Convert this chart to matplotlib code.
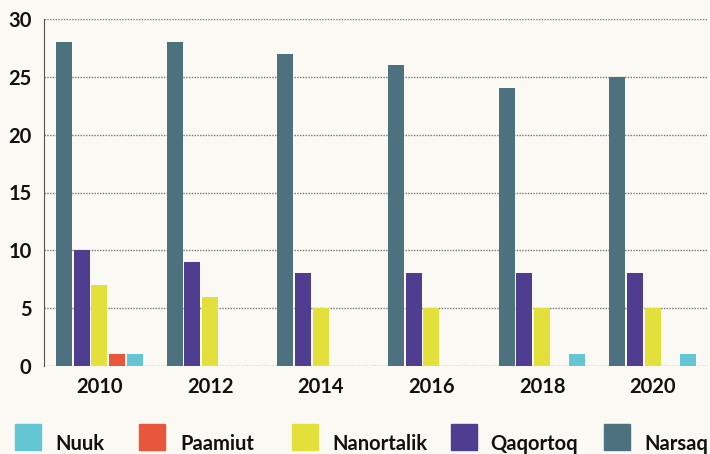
import numpy as np
import matplotlib
matplotlib.use("Agg")
import matplotlib.pyplot as plt
from matplotlib.patches import Rectangle

years = ["2010", "2012", "2014", "2016", "2018", "2020"]
series = ["Narsaq", "Qaqortoq", "Nanortalik", "Paamiut", "Nuuk"]
narsaq = [28, 28, 27, 26, 24, 25]
qaqortoq = [10, 9, 8, 8, 8, 8]
nanortalik = [7, 6, 5, 5, 5, 5]
paamiut = [1, 0, 0, 0, 0, 0]
nuuk = [1, 0, 0, 0, 1, 1]
legend_order = ["Nuuk", "Paamiut", "Nanortalik", "Qaqortoq", "Narsaq"]

colors = {
    "Narsaq": "#4e7180",
    "Qaqortoq": "#4f3e8f",
    "Nanortalik": "#e3e03b",
    "Paamiut": "#e8573b",
    "Nuuk": "#64c5d3",
}
values = {"Narsaq": narsaq, "Qaqortoq": qaqortoq, "Nanortalik": nanortalik,
          "Paamiut": paamiut, "Nuuk": nuuk}

bg = "#faf9f4"
W, H = 710, 454
plt.rcParams["font.family"] = ["Lato", "DejaVu Sans"]

fig = plt.figure(figsize=(W / 100, H / 100), dpi=100, facecolor=bg)
ax = fig.add_axes([44 / W, 88 / H, 664 / W, 347 / H])
ax.set_facecolor(bg)

x = np.arange(len(years))
step = 0.159
width = 0.145
for k, name in enumerate(series):
    vals = np.array(values[name])
    off = (k - 2) * step
    ax.bar(x + off, vals, width, color=colors[name], zorder=3)

ax.set_xlim(-0.5, 5.5)
ax.set_ylim(0, 30)
ax.set_yticks(range(0, 31, 5))
ax.set_xticks(x)
ax.set_xticklabels(years)
ax.grid(axis="y", linestyle=(0, (1, 1)), color="#777777", linewidth=1, zorder=0)
for s in ["top", "right", "bottom"]:
    ax.spines[s].set_visible(False)
ax.spines["left"].set_linestyle((0, (1, 1)))
ax.spines["left"].set_color("#555555")
ax.tick_params(axis="both", length=0, labelsize=14.5, labelcolor="#111111")
ax.tick_params(axis="y", pad=9)
ax.tick_params(axis="x", pad=8)
for lab in ax.get_xticklabels() + ax.get_yticklabels():
    lab.set_fontweight("bold")

# legend drawn by hand (square left edges and text left edges in pixels)
sq_x = [15, 139, 292, 451, 604]
tx_x = [55, 180, 332, 490, 644]
for name, sx, tx in zip(legend_order, sq_x, tx_x):
    fig.add_artist(Rectangle((sx / W, 4 / H), 26 / W, 26 / H,
                             transform=fig.transFigure, color=colors[name]))
    fig.text(tx / W, 4 / H, name, fontsize=14.5, fontweight="bold",
             color="#111111", ha="left", va="baseline")

fig.savefig("out.png", dpi=100, facecolor=bg)
